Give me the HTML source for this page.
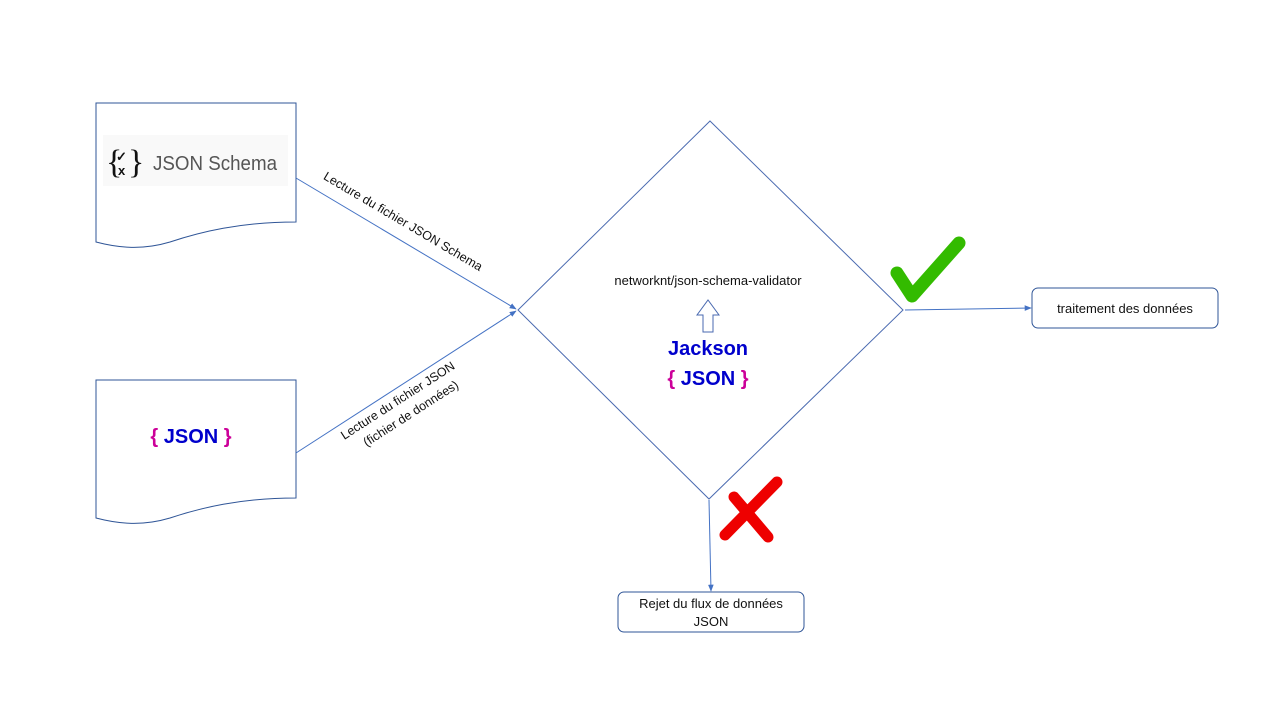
<!DOCTYPE html>
<html><head><meta charset="utf-8"><style>
body{margin:0;background:#fff;width:1280px;height:720px;overflow:hidden;font-family:"Liberation Sans",sans-serif}
</style></head><body>
<svg width="1280" height="720" viewBox="0 0 1280 720" xmlns="http://www.w3.org/2000/svg">
<defs><marker id="a" viewBox="0 0 10 10" refX="9" refY="5" markerWidth="7" markerHeight="7" orient="auto"><path d="M0,1 L10,5 L0,9 z" fill="#4472C4"/></marker></defs>
<!-- doc 1 -->
<path d="M96,103 H296 V222 C240,222 200,232 170,242 C140,251 115,247 96,242 Z" fill="#fff" stroke="#2F5597" stroke-width="1"/>
<rect x="103" y="135" width="185" height="51" fill="#f9f9f9"/>
<text x="106" y="173" font-family="Liberation Serif" font-size="34" fill="#111">{</text>
<text x="128" y="173" font-family="Liberation Serif" font-size="34" fill="#111">}</text>
<text x="116" y="161" font-size="13" font-weight="bold" fill="#111">✓</text>
<text x="118" y="175" font-size="13" font-weight="bold" fill="#111">x</text>
<text x="153" y="170" font-size="20" fill="#555" textLength="124" lengthAdjust="spacingAndGlyphs">JSON Schema</text>
<!-- doc 2 -->
<path d="M96,380 H296 V498 C240,498 200,508 170,518 C140,527 115,523 96,518 Z" fill="#fff" stroke="#2F5597" stroke-width="1"/>
<text x="191" y="443" font-size="20" font-weight="bold" text-anchor="middle"><tspan fill="#CC0099">{ </tspan><tspan fill="#0000CC">JSON</tspan><tspan fill="#CC0099"> }</tspan></text>
<!-- connectors -->
<line x1="296" y1="178" x2="516" y2="309" stroke="#4472C4" marker-end="url(#a)"/>
<line x1="296" y1="453" x2="516" y2="311" stroke="#4472C4" marker-end="url(#a)"/>
<text transform="translate(401,225) rotate(30.6)" font-size="12.5" text-anchor="middle" fill="#111">Lecture du fichier JSON Schema</text>
<text transform="translate(400,404) rotate(-32.8)" font-size="12.5" text-anchor="middle" fill="#111">Lecture du fichier JSON</text>
<text transform="translate(413,417) rotate(-32.8)" font-size="12.5" text-anchor="middle" fill="#111">(fichier de données)</text>
<!-- diamond -->
<path d="M710,121 L903,310 L709,499 L518,310 Z" fill="#fff" stroke="#4a6ab0" stroke-width="1"/>
<text x="708" y="285" font-size="13" text-anchor="middle" fill="#111">networknt/json-schema-validator</text>
<path d="M703,332 V315 H697 L708,300 L719,315 H713 V332 Z" fill="#fff" stroke="#4a6ab0"/>
<text x="708" y="355" font-size="20" font-weight="bold" text-anchor="middle" fill="#0000CC">Jackson</text>
<text x="708" y="385" font-size="20" font-weight="bold" text-anchor="middle"><tspan fill="#CC0099">{ </tspan><tspan fill="#0000CC">JSON</tspan><tspan fill="#CC0099"> }</tspan></text>
<!-- check -->
<path d="M897,273 L912,296 L959,243" fill="none" stroke="#33BB00" stroke-width="13" stroke-linecap="round" stroke-linejoin="round"/>
<!-- cross -->
<path d="M725,535 L777,482 M734,497 L768,537" fill="none" stroke="#EE0000" stroke-width="11" stroke-linecap="round"/>
<!-- outputs -->
<line x1="905" y1="310" x2="1031" y2="308" stroke="#4472C4" marker-end="url(#a)"/>
<line x1="709" y1="500" x2="711" y2="591" stroke="#4472C4" marker-end="url(#a)"/>
<rect x="1032" y="288" width="186" height="40" rx="6" fill="#fff" stroke="#2F5597"/>
<text x="1125" y="313" font-size="13" text-anchor="middle" fill="#111">traitement des données</text>
<rect x="618" y="592" width="186" height="40" rx="6" fill="#fff" stroke="#2F5597"/>
<text x="711" y="608" font-size="13" text-anchor="middle" fill="#111">Rejet du flux de données</text>
<text x="711" y="626" font-size="13" text-anchor="middle" fill="#111">JSON</text>
</svg>
</body></html>
